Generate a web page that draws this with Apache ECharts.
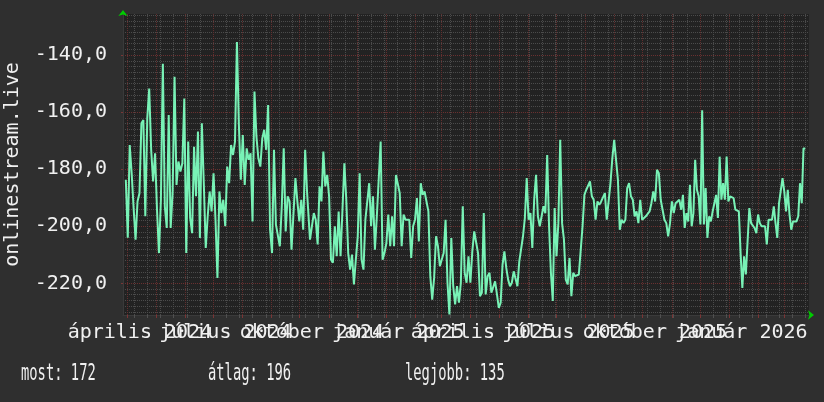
<!DOCTYPE html>
<html>
<head>
<meta charset="utf-8">
<script src="https://cdn.jsdelivr.net/npm/echarts@6/dist/echarts.min.js"></script>
<style>
  html, body { margin: 0; padding: 0; background: #2f2f2f; }
  #chart { width: 824px; height: 402px; }
</style>
</head>
<body>
<div id="chart"></div>
<script>
// data (values are plotted negative, like the original graph)
const axisName = 'onlinestream.live';
const monthNames = ['január', 'február', 'március', 'április', 'május', 'június',
  'július', 'augusztus', 'szeptember', 'október', 'november', 'december'];
const labelMonths = ['2024-04', '2024-07', '2024-10', '2025-01', '2025-04', '2025-07', '2025-10', '2026-01'];
const yLabels = [-220, -200, -180, -160, -140];
const summaryLabels = ['most', 'átlag', 'legjobb'];
const summaryValues = [172, 196, 135];

const seg1Range = ['2024-03-30', '2024-10-11'];
const seg1Values = [
  -183.7, -204, -171.5, -181.4, -193.6, -204.7, -191.3, -188.4, -163.9, -162.8,
  -196.5, -162.2, -151.7, -173.2, -184.3, -174.4, -194.2, -209.4, -190.7, -143,
  -193, -200.6, -161, -200.6, -188.4, -147.6, -185.5, -177.3, -180.8, -177.9,
  -155.2, -209.4, -170.3, -197.1, -202.4, -172.1, -189.5, -166.8, -204.1, -163.9,
  -184.9, -207.6, -196.5, -187.8, -194.8, -181.4, -197.7, -218.1, -187.8, -195.4,
  -190.7, -200, -179.1, -184.9, -171.5, -175, -170.3, -135.4, -164.5, -183.7,
  -168, -185.5, -172.7, -176.7, -174.4, -198.3, -152.8, -168.6, -176.2, -179.1,
  -169.2, -166.2, -173.2, -157.5, -201.2, -209.4, -173.2, -199.4, -200, -207,
  -193, -172.7, -201.8, -189.5, -191.3, -208.2, -208.2, -183.1, -191.3, -198.3,
  -190.7, -201.2, -173.2, -188.4, -188.4
];
const seg2Range = ['2024-10-12', '2025-04-21'];
const seg2Values = [
  -204.7, -204.7, -195.4, -197.7, -206.4, -186, -191.3, -173.8, -186, -182,
  -189.5, -211.7, -212.8, -200, -210.5, -194.8, -210.5, -194.2, -177.9, -190.7,
  -209.4, -215.2, -209.9, -220.4, -211.7, -203.5, -181.4, -211.7, -215.2, -197.7,
  -197.7, -184.9, -200, -189.5, -208.2, -196.5, -197.1, -170.3, -211.7, -209.4,
  -205.9, -195.9, -207, -196.5, -207, -182, -182, -188.4, -207, -195.9,
  -197.7, -197.1, -197.7, -211.1, -200, -197.7, -190.1, -205.3, -184.9, -189,
  -187.8, -191.3, -194.8, -217.5, -225.7, -218.1, -203.5, -207, -214, -214,
  -209.4, -197.7, -219.8, -230.9, -204.1, -221, -227.4, -221, -226.8, -219.8,
  -193, -216.3, -219.8, -210.5, -219.8, -208.8, -201.8, -202.4, -209.4, -224.5,
  -223.3, -195.4, -223.9, -217.5, -216.3
];
const seg3Range = ['2025-04-23', '2025-11-09'];
const seg3Values = [
  -223.3, -223.9, -219.3, -223.9, -228.6, -226.8, -213.4, -208.8, -214.6, -218.7,
  -221, -219.8, -215.8, -216.3, -221, -212.3, -211.7, -203.5, -197.1, -183.1,
  -197.7, -195.4, -207.6, -190.7, -182, -196.5, -200, -200.6, -193, -195.4,
  -175, -200, -216.3, -226.2, -193.6, -210.5, -198.9, -169.7, -198.9, -204.7,
  -218.7, -220.4, -211.1, -224.5, -216.3, -217.5, -217.5, -216.9, -217.5, -200,
  -189, -187.2, -187.8, -184.3, -189.5, -190.7, -197.7, -191.3, -192.5, -191.3,
  -191.9, -188.4, -197.7, -197.7, -184.9, -176.2, -169.7, -176.7, -183.7, -201.2,
  -197.7, -198.9, -197.7, -186.6, -184.9, -189.5, -190.7, -196.5, -194.8, -198.9,
  -190.7, -197.7, -197.1, -196.5, -195.9, -194.8, -191.9, -187.8, -191.3, -180.2,
  -181.4, -190.7, -191.3, -197.7, -198.9, -203.5, -198.9, -191.3, -195.4, -191.9,
  -191.3, -190.7
];
const seg4Range = ['2025-11-11', '2026-03-23'];
const seg4Values = [
  -194.2, -189, -200.6, -195.4, -198.3, -185.5, -200, -195.4, -176.7, -187.2,
  -189.5, -199.4, -159.3, -199.4, -186.6, -204.1, -196.5, -198.3, -194.8, -195.4,
  -189, -197.1, -175.6, -190.7, -184.9, -190.7, -175.6, -191.3, -189.5, -190.1,
  -190.1, -194.2, -193.6, -194.8, -209.4, -221.6, -210.5, -216.9, -216.9, -193.6,
  -198.9, -199.4, -200.6, -202.4, -195.9, -198.9, -200, -199.4, -200, -206.4,
  -197.7, -197.1, -197.7, -193, -198.9, -204.1, -191.9, -191.9, -183.1, -187.8,
  -194.8, -187.2, -195.9, -201.2, -198.3, -198.9, -198.3, -196.5, -184.9, -191.9,
  -172.7, -172.7
];

const DAY = 86400000;
function parseDay(s) {
  const p = s.split('-').map(Number);
  return Date.UTC(p[0], p[1] - 1, p[2] || 1);
}

const xMin = parseDay('2024-03-27');
const xMax = parseDay('2026-03-27');
const yMin = -231.1;
const yMax = -125.6;

// line points: each segment is evenly spaced between its dates
const lineData = [];
[[seg1Range, seg1Values], [seg2Range, seg2Values], [seg3Range, seg3Values], [seg4Range, seg4Values]]
  .forEach(function (seg) {
    const t0 = parseDay(seg[0][0]);
    const t1 = parseDay(seg[0][1]);
    const vals = seg[1];
    vals.forEach(function (v, i) {
      lineData.push([t0 + (t1 - t0) * i / (vals.length - 1), v]);
    });
  });

// grid positions
const monthTicks = [];
for (let k = 0; k < 24; k++) monthTicks.push(Date.UTC(2024, 3 + k, 1));
const weekTicks = [];
for (let t = parseDay('2024-04-08'); t < xMax; t += 14 * DAY) weekTicks.push(t);
const labelTicks = labelMonths.map(function (m) { return parseDay(m) + 13 * DAY; });
// the long labels overlap like in the original; split them over two axes so echarts keeps them all
const labelTicksA = labelTicks.filter(function (t, i) { return i % 2 === 0; });
const labelTicksB = labelTicks.filter(function (t, i) { return i % 2 === 1; });
const yMinorTicks = [];
for (let v = -230; v <= -126; v += 2) yMinorTicks.push(v);

const textColor = '#f0f0f0';
const monoFont = 'DejaVu Sans Mono';
const minorColor = '#4b4b4b';
const majorColor = '#622e2e';
const arrowColor = '#00cc00';

function monthLabel(v) {
  const d = new Date(v);
  return monthNames[d.getUTCMonth()] + ' ' + d.getUTCFullYear();
}
function labelAxis(values, withGrid) {
  return {
    type: 'value', min: xMin, max: xMax, position: 'bottom',
    axisLine: { show: withGrid, onZero: false, lineStyle: { color: '#3a3a3a', width: 1 } },
    axisTick: { show: withGrid, length: 3, customValues: withGrid ? monthTicks : values, lineStyle: { color: '#7a3535' } },
    axisLabel: {
      show: true, customValues: values, interval: 0, hideOverlap: false,
      showMinLabel: true, showMaxLabel: true,
      color: textColor, fontFamily: monoFont, fontSize: 20, margin: 8,
      formatter: monthLabel
    },
    splitLine: { show: withGrid, lineStyle: { color: majorColor, type: [1, 1], width: 1 } }
  };
}

const chart = echarts.init(document.getElementById('chart'));
chart.setOption({
  backgroundColor: '#2f2f2f',
  animation: false,
  grid: {
    left: 123, right: 15, top: 14, bottom: 87,
    show: true, backgroundColor: '#222222', borderWidth: 0,
    containLabel: false, outerBoundsMode: 'none'
  },
  xAxis: [
    {
      type: 'value', min: xMin, max: xMax, position: 'bottom',
      axisLine: {
        show: true, onZero: false, symbol: ['none', 'arrow'], symbolSize: [7, 6], symbolOffset: [0, 5],
        lineStyle: { color: arrowColor, width: 0 }
      },
      axisTick: { show: true, length: 3, customValues: weekTicks, lineStyle: { color: '#505050' } },
      axisLabel: { show: false },
      splitLine: { show: true, lineStyle: { color: minorColor, type: [1, 1], width: 1 } }
    },
    labelAxis(labelTicksA, true),
    labelAxis(labelTicksB, false)
  ],
  yAxis: [
    {
      type: 'value', min: yMin, max: yMax, position: 'left',
      axisLine: {
        show: true, onZero: false, symbol: ['none', 'arrow'], symbolSize: [7, 6], symbolOffset: [0, 4],
        lineStyle: { color: arrowColor, width: 0 }
      },
      axisTick: { show: false, customValues: yMinorTicks },
      axisLabel: { show: false },
      splitLine: { show: true, lineStyle: { color: minorColor, type: [1, 1], width: 1 } }
    },
    {
      type: 'value', min: yMin, max: yMax, position: 'left',
      name: axisName, nameLocation: 'middle', nameRotate: 90, nameGap: 100,
      nameTextStyle: { color: textColor, fontFamily: monoFont, fontSize: 20 },
      axisLine: { show: true, onZero: false, lineStyle: { color: '#3a3a3a', width: 1 } },
      axisTick: { show: true, length: 2, customValues: yLabels, lineStyle: { color: '#7a3535' } },
      axisLabel: {
        show: true, customValues: yLabels, color: textColor, fontFamily: monoFont, fontSize: 20, margin: 16,
        showMinLabel: true, showMaxLabel: true,
        formatter: function (v) { return v.toFixed(1).replace('.', ','); }
      },
      splitLine: { show: true, lineStyle: { color: '#6a3030', type: [1, 1], width: 1 } }
    }
  ],
  series: [
    {
      type: 'line', xAxisIndex: 1, yAxisIndex: 1, data: lineData,
      showSymbol: false, z: 5,
      lineStyle: { color: '#78f2b6', width: 2 }
    }
  ],
  graphic: summaryLabels.map(function (lab, i) {
    return {
      type: 'text', x: [21, 208, 405][i], y: 374, scaleX: 0.6,
      style: {
        text: lab + ': ' + summaryValues[i], fill: textColor,
        font: '23px "DejaVu Sans Mono"', verticalAlign: 'middle'
      }
    };
  })
});
</script>
</body>
</html>
